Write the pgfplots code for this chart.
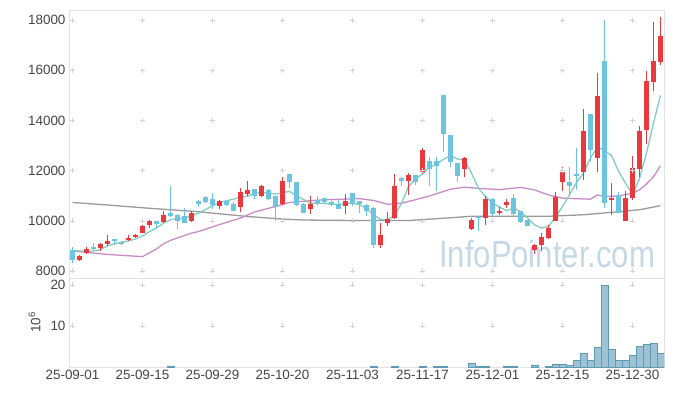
\documentclass[border=0pt]{standalone}
\usepackage{fontspec}
\setmainfont{Liberation Sans}
\usepackage{graphicx}
\usepackage{pgfplots}
\usepackage{pgfplotstable}
\pgfplotsset{compat=1.18}
\definecolor{upc}{HTML}{E8393F}
\definecolor{dnc}{HTML}{6CC4DE}
\definecolor{maA}{HTML}{82CCC0}
\definecolor{maB}{HTML}{C98BC5}
\definecolor{maC}{HTML}{9A9A9A}
\definecolor{volf}{HTML}{9CC2D4}
\definecolor{vole}{HTML}{5E9AB4}
\definecolor{wm}{HTML}{C4D8E5}
\definecolor{tickc}{HTML}{444444}
\definecolor{framec}{HTML}{E2E2E2}
\definecolor{gridc}{HTML}{D2D2D2}

\pgfplotstableread{
i o h l c
0 8850 8940 8320 8450
1 8420 8620 8400 8580
2 8700 8950 8680 8880
3 8950 9100 8820 8880
4 8930 9100 8790 9070
5 9070 9440 8980 9200
6 9270 9280 9030 9200
7 9150 9200 9050 9090
8 9250 9430 9180 9300
9 9350 9470 9330 9440
10 9530 9840 9500 9800
11 9840 10050 9720 10000
12 10000 10010 9690 9890
13 9950 10380 9900 10240
14 10330 11370 10170 10210
15 10230 10260 9690 9980
16 10200 10500 9900 9930
17 10010 10400 9950 10330
18 10800 10810 10550 10680
19 10940 10980 10700 10730
20 10860 11100 10450 10640
21 10570 10840 10450 10800
22 10800 10840 10570 10610
23 10680 10740 10410 10410
24 10540 11300 10370 11140
25 11070 11590 10970 11230
26 11270 11280 10880 10970
27 10970 11420 10960 11370
28 11230 11260 10840 10860
29 10990 11000 10000 10540
30 10660 11740 10620 11590
31 11870 11880 11300 11530
32 11530 11550 10570 10610
33 10680 10700 10320 10330
34 10480 11000 10290 10660
35 10840 11000 10600 10710
36 10900 10920 10650 10750
37 10730 10840 10600 10660
38 10660 10840 10480 10480
39 10570 11060 10270 10800
40 11090 11100 10600 10650
41 10770 10780 10320 10680
42 10640 10650 10180 10400
43 10520 10530 8900 9020
44 9040 9900 8910 9440
45 9910 10350 9780 10080
46 10110 11860 10070 11400
47 11720 11750 11370 11600
48 11600 11900 11030 11830
49 11830 11840 11420 11540
50 11960 12900 11880 12830
51 12390 12560 11370 12070
52 12390 12560 11170 12190
53 15020 15030 12760 13460
54 13420 13430 12160 12360
55 12300 12310 11540 11800
56 12060 12560 11760 12490
57 9670 10100 9650 10040
58 10170 10190 9580 10110
59 10100 11000 9850 10860
60 10880 10890 10200 10270
61 10330 10530 10230 10400
62 10640 10880 10520 10730
63 10900 11050 10200 10290
64 10400 10410 9930 9970
65 10040 10050 9780 9800
66 8840 9080 8680 9040
67 9040 9530 8780 9340
68 9300 9850 9260 9720
69 10010 11150 9990 10960
70 11530 12130 11170 11960
71 11540 12150 11030 11400
72 11880 12890 11230 11770
73 11960 14460 11630 13580
74 14260 14270 12400 12830
75 12500 15880 11960 14980
76 16380 18000 10500 10700
77 10810 11500 10240 10900
78 11030 11150 10300 10310
79 10010 11170 10000 10900
80 10900 12600 10840 12100
81 12060 13780 11760 13580
82 13600 15970 13050 15570
83 15540 17910 15170 16370
84 16340 18120 16200 17380
}\candles

\pgfplotstableread{
i v
0 8820
1 8800
2 8780
3 8800
4 8850
5 9000
6 9080
7 9140
8 9200
9 9270
10 9400
11 9570
12 9710
13 9910
14 10040
15 10080
16 10110
17 10200
18 10300
19 10450
20 10600
21 10730
22 10800
23 10860
24 10950
25 10970
26 11100
27 11120
28 11120
29 11060
30 11120
31 11170
32 11000
33 10850
34 10700
35 10700
36 10690
37 10660
38 10650
39 10690
40 10710
41 10640
42 10500
43 10240
44 10060
45 10040
46 10200
47 10700
48 11370
49 11650
50 11870
51 12140
52 12250
53 12450
54 12590
55 12460
56 12430
57 11900
58 11300
59 10970
60 10700
61 10550
62 10400
63 10500
64 10370
65 10110
66 9840
67 9710
68 9770
69 10150
70 10570
71 11040
72 11530
73 11900
74 12500
75 12950
76 12800
77 12600
78 11980
79 11500
80 11050
81 11680
82 12700
83 13900
84 15000
}\maA

\pgfplotstableread{
i v
0 8800
2 8740
5 8660
10 8570
12 8880
13 9080
14 9220
17 9510
18 9570
21 9850
24 10110
26 10350
29 10570
31 10730
34 10800
36 10840
41 10880
43 10810
45 10660
47 10700
49 10840
51 10990
53 11170
54 11260
56 11340
58 11290
61 11240
64 11330
66 11230
68 11030
70 10900
74 10860
75 11030
76 10970
78 10990
80 11100
81 11230
82 11470
83 11760
84 12190
}\maB

\pgfplotstableread{
i v
0 10730
5 10630
10 10520
15 10420
18 10360
21 10280
25 10170
30 10070
33 10030
41 10010
48 10010
53 10100
57 10180
61 10180
68 10180
73 10240
78 10360
81 10440
84 10600
}\maC

\pgfplotstableread{
i v
14 0.25
43 0.2
46 0.2
50 0.2
52 0.2
53 0.2
57 1.0
58 0.25
59 0.25
62 0.25
63 0.25
66 0.5
68 0.2
69 0.75
70 0.75
71 0.5
72 1.7
73 3.4
74 1.5
75 4.9
76 19.8
77 4.2
78 1.5
79 1.5
80 2.9
81 5.1
82 5.4
83 5.85
84 3.4
}\vol

\pgfplotsset{
  basestyle/.style={
    scale only axis, width=595bp,
    xmin=-0.5, xmax=84.5,
    axis line style={draw=framec},
    tick style={draw=none},
    ticklabel style={font=\fontsize{13.5}{15}\selectfont, text=tickc},
    /pgf/number format/assume math mode=true,
    /pgf/number format/1000 sep={},
    scaled y ticks=false,
    xtick={0,10,20,30,40,50,60,70,80},
  },
  upf/.style={restrict expr to domain={\thisrow{c}-\thisrow{o}}{0:100000}},
  dnf/.style={restrict expr to domain={\thisrow{c}-\thisrow{o}}{-100000:-0.001}},
  nomark/.style={only marks, mark=*, mark size=0pt, mark options={draw=none, fill=none}},
}

\begin{document}
\begin{tikzpicture}
\useasboundingbox (0,0) rectangle (673bp,-396bp);
\begin{axis}[basestyle,
  at={(69bp,-10bp)}, anchor=north west,
  height=268bp,
  ymin=7720, ymax=18400,
  ytick={8000,10000,12000,14000,16000,18000},
  xticklabels={},
]
\node[anchor=base, text=wm, inner sep=0pt] at (axis cs:67.8,8130)
  {\scalebox{0.82}[1]{\fontsize{38}{40}\selectfont InfoPointer.com}};
\addplot[only marks, mark=+, mark size=2.5bp, color=gridc, forget plot] coordinates {
(0,8000) (0,10000) (0,12000) (0,14000) (0,16000) (0,18000)
(10,8000) (10,10000) (10,12000) (10,14000) (10,16000) (10,18000)
(20,8000) (20,10000) (20,12000) (20,14000) (20,16000) (20,18000)
(30,8000) (30,10000) (30,12000) (30,14000) (30,16000) (30,18000)
(40,8000) (40,10000) (40,12000) (40,14000) (40,16000) (40,18000)
(50,8000) (50,10000) (50,12000) (50,14000) (50,16000) (50,18000)
(60,8000) (60,10000) (60,12000) (60,14000) (60,16000) (60,18000)
(70,8000) (70,10000) (70,12000) (70,14000) (70,16000) (70,18000)
(80,8000) (80,10000) (80,12000) (80,14000) (80,16000) (80,18000)
};
\addplot[maC, line width=1.3bp, mark=none] table[x=i, y=v] {\maC};
\addplot[maB, line width=1.3bp, mark=none] table[x=i, y=v] {\maB};
\addplot[maA, line width=1.3bp, mark=none] table[x=i, y=v] {\maA};
% wicks
\addplot[upf, nomark,
  error bars/.cd, y dir=plus, y explicit, error mark=none,
  error bar style={line width=1bp, draw=upc}]
  table[x=i, y=l, y error plus expr={\thisrow{h}-\thisrow{l}}] {\candles};
\addplot[dnf, nomark,
  error bars/.cd, y dir=plus, y explicit, error mark=none,
  error bar style={line width=1bp, draw=dnc}]
  table[x=i, y=l, y error plus expr={\thisrow{h}-\thisrow{l}}] {\candles};
% bodies
\addplot[upf, nomark,
  error bars/.cd, y dir=plus, y explicit, error mark=none,
  error bar style={line width=5.2bp, draw=upc}]
  table[x=i, y=o, y error plus expr={\thisrow{c}-\thisrow{o}}] {\candles};
\addplot[dnf, nomark,
  error bars/.cd, y dir=plus, y explicit, error mark=none,
  error bar style={line width=5.2bp, draw=dnc}]
  table[x=i, y=c, y error plus expr={\thisrow{o}-\thisrow{c}}] {\candles};
\end{axis}

\begin{axis}[basestyle,
  at={(69bp,-278bp)}, anchor=north west,
  height=89bp,
  ymin=0, ymax=21.7,
  ytick={10,20},
  xticklabels={25-09-01,25-09-15,25-09-29,25-10-20,25-11-03,25-11-17,25-12-01,25-12-15,25-12-30},
  ylabel={10\textsuperscript{6}},
  ylabel style={at={(axis description cs:-0.058,0.5)}, anchor=center,
    font=\fontsize{13.5}{15}\selectfont, text=tickc},
]
\addplot[only marks, mark=+, mark size=2.5bp, color=gridc, forget plot] coordinates {
(0,10) (0,20) (10,10) (10,20) (20,10) (20,20) (30,10) (30,20) (40,10) (40,20)
(50,10) (50,20) (60,10) (60,20) (70,10) (70,20) (80,10) (80,20)
};
\addplot[ybar, bar width=1, fill=volf, draw=vole, line width=0.8bp] table[x=i, y=v] {\vol};
\end{axis}
\end{tikzpicture}
\end{document}
